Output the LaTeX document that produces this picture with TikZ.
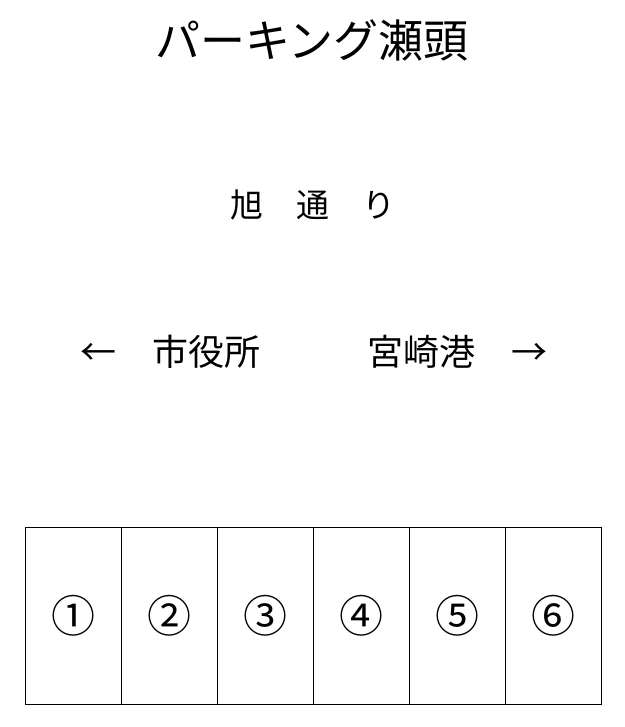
\documentclass[tikz,border=0pt]{standalone}
\usepackage{fontspec}
\newfontfamily\jpfont{Noto Sans CJK JP}
\begin{document}
\begin{tikzpicture}[x=1pt,y=-1pt,
  txt/.style={font=\jpfont\fontsize{36}{40}\selectfont, inner sep=0pt, anchor=center},
  roadtxt/.style={font=\jpfont\fontsize{33}{38}\selectfont, inner sep=0pt, anchor=center},
  title/.style={font=\jpfont\fontsize{45}{50}\selectfont, inner sep=0pt, anchor=center},
  cell/.style={draw, line width=0.8pt, minimum width=96pt, minimum height=177pt, inner sep=0pt, anchor=north west,
    font=\jpfont\fontsize{44}{48}\selectfont}]
\useasboundingbox[fill=white] (0,0) rectangle (624,727);
\node[title] (t) at (312,40) {パーキング瀬頭};
\node[roadtxt] (road) at (313,205) {旭　通　り};
\node[txt] (left) at (170,352) {←　市役所};
\node[txt] (right) at (457,352) {宮崎港　→};
\node[cell] (c1) at (25,527) {①};
\node[cell] (c2) at (121,527) {②};
\node[cell] (c3) at (217,527) {③};
\node[cell] (c4) at (313,527) {④};
\node[cell] (c5) at (409,527) {⑤};
\node[cell] (c6) at (505,527) {⑥};
\end{tikzpicture}
\end{document}
